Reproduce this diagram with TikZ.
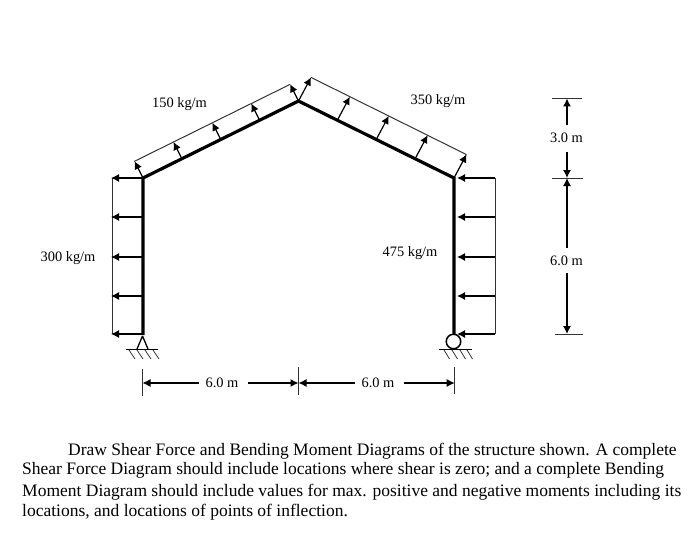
\documentclass[tikz,border=0pt]{standalone}
\usepackage{fontspec}
\setmainfont{Liberation Serif}
\usetikzlibrary{arrows.meta,calc}
\tikzset{
 x=1pt,y=-1pt,
 beam/.style={line width=3.2pt,black},
 thin load/.style={line width=1pt,black!80},
 load/.style={line width=1.2pt,-{Latex[length=8pt,width=8pt]}},
 dim/.style={line width=1.2pt,-{Latex[length=8pt,width=8pt]}},
 tick/.style={line width=1pt,black!80},
 lab/.style={font=\fontsize{14.4}{16}\selectfont,inner sep=0pt},
 para/.style={font=\fontsize{17.5}{20}\selectfont,inner sep=0pt,anchor=base west},
 gnd/.style={line width=1.8pt},
 hatch/.style={line width=0.8pt,black!80},
}
\begin{document}
\begin{tikzpicture}
\useasboundingbox (0,0) rectangle (700,548);
% frame points
\coordinate (A) at (143,335);
\coordinate (B) at (143,178);
\coordinate (C) at (298.5,101);
\coordinate (D) at (454,178);
\coordinate (E) at (454,334);
% left wall load
\coordinate (LT) at (112,178);
\coordinate (LB) at (112,334);
\draw[thin load] (LT) -- (LB);
\foreach \y in {178,217,257,296,334}{
  \coordinate (lf) at (143,\y); \coordinate (lt) at (111,\y);
  \draw[load] (lf) -- (lt);
}
% right wall load
\coordinate (RT) at (495,178);
\coordinate (RB) at (495,334);
\draw[thin load] (RT) -- (RB);
\foreach \y in {178,217,257,296,334}{
  \coordinate (rf) at (495,\y); \coordinate (rt) at (457,\y);
  \draw[load] (rf) -- (rt);
}
% left roof load
\draw[thin load] (134.3,161.4) -- (290,84.4);
\foreach \t in {0,0.25,0.5,0.75,1}{
  \coordinate (f) at ($(B)!\t!(C)$);
  \draw[load] (f) -- ++(-8.4,-16.8);
}
% right roof load
\draw[thin load] (311,77.4) -- (466.5,154.6);
\foreach \t in {0,0.25,0.5,0.75,1}{
  \coordinate (f) at ($(C)!\t!(D)$);
  \draw[load] (f) -- ++(12.5,-23.6);
}
% frame
\draw[beam,line join=miter] (A) -- (B) -- (C) -- (D) -- (E);
% pin
\draw[line width=1.3pt] (142.5,336) -- (137,349) (142.5,336) -- (148,349);
\draw[gnd] (126,349.5) -- (158,349.5);
\foreach \x in {129,137,145,153}{ \draw[hatch] (\x,350) -- ++(6,9); }
% roller
\node[circle,draw,line width=1.5pt,minimum size=14.5pt,inner sep=0pt,fill=white] (roller) at (453.5,341.5) {};
\draw[gnd] (439,349.5) -- (472,349.5);
\foreach \x in {444,452,460,467}{ \draw[hatch] (\x,350) -- ++(5.5,9); }
% horizontal dimensions
\draw[tick] (142.5,369) -- (142.5,396);
\draw[tick] (298.5,367) -- (298.5,395);
\draw[tick] (454.7,367) -- (454.7,394);
\node[lab] (d1) at (222,383) {6.0 m};
\node[lab] (d2) at (378,383) {6.0 m};
\coordinate (h1) at (142.5,383); \coordinate (h2) at (298.5,383); \coordinate (h3) at (454.7,383);
\draw[dim] (199,383) -- (h1);
\draw[dim] (248,383) -- (h2);
\draw[dim] (355,383) -- (h2);
\draw[dim] (404,383) -- (h3);
% vertical dimensions
\draw[tick] (552,98.5) -- (582,98.5);
\draw[tick] (552,178) -- (583,178);
\draw[tick] (555,334) -- (583,334);
\node[lab] (v1) at (566.5,138) {3.0 m};
\node[lab] (v2) at (566.5,261) {6.0 m};
\draw[dim] (567,125) -- (567,98.5);
\draw[dim] (567,152) -- (567,178);
\draw[dim] (567,248) -- (567,178);
\draw[dim] (567,273) -- (567,334);
% labels
\node[lab] at (68,258) {300 kg/m};
\node[lab] at (179.5,104) {150 kg/m};
\node[lab] at (438,101.5) {350 kg/m};
\node[lab] at (410,253) {475 kg/m};
% paragraph
\node[para] at (68,455.5) {Draw Shear Force and Bending Moment Diagrams of the structure shown. A complete};
\node[para] at (22,474.5) {Shear Force Diagram should include locations where shear is zero; and a complete Bending};
\node[para] at (22,496) {Moment Diagram should include values for max. positive and negative moments including its};
\node[para] at (22,516) {locations, and locations of points of inflection.};
\end{tikzpicture}
\end{document}
